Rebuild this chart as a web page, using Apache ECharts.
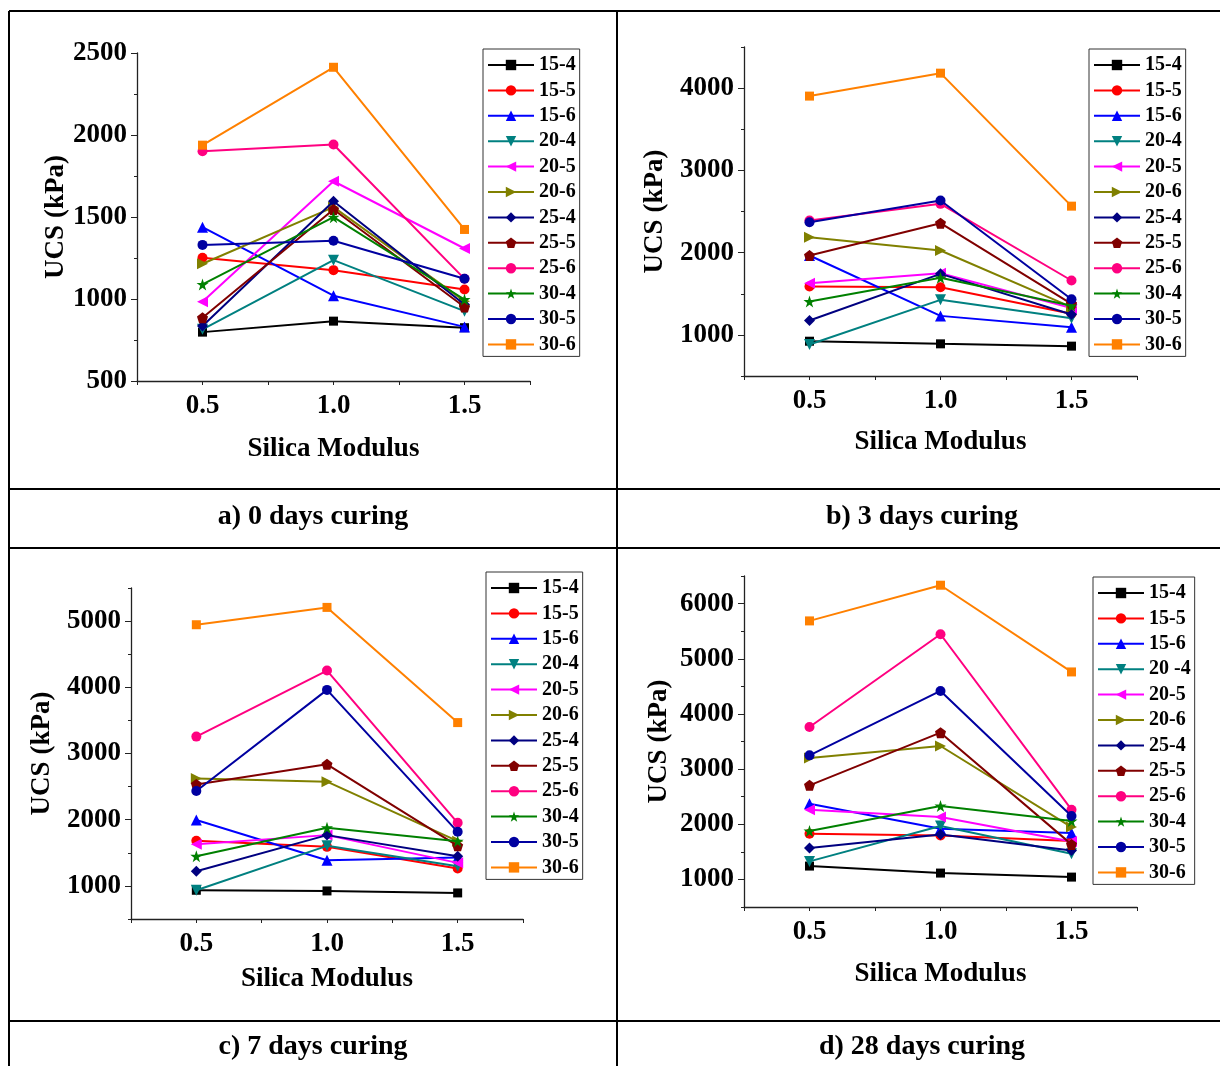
<!DOCTYPE html>
<html><head><meta charset="utf-8">
<script src="https://cdn.jsdelivr.net/npm/echarts@6/dist/echarts.min.js"></script>
<style>html,body{margin:0;padding:0;background:#fff}#c{width:1220px;height:1066px}</style>
</head><body><div id="c"></div>
<script>
// ---------- data ----------
const silicaModulus = [0.5, 1.0, 1.5];
const mixNames = ['15-4','15-5','15-6','20-4','20-5','20-6','25-4','25-5','25-6','30-4','30-5','30-6'];
const mixNames28 = ['15-4','15-5','15-6','20 -4','20-5','20-6','25-4','25-5','25-6','30-4','30-5','30-6'];
const ucsDay0 = [
  [798, 865, 825], [1251, 1176, 1058], [1438, 1020, 830], [815, 1237, 926],
  [983, 1718, 1308], [1215, 1560, 987], [835, 1596, 967], [886, 1546, 951],
  [1901, 1942, 1123], [1089, 1499, 997], [1330, 1355, 1123], [1938, 2413, 1424]
];
const ucsDay3 = [
  [923, 891, 863], [1588, 1580, 1256], [1965, 1231, 1094], [883, 1426, 1203],
  [1629, 1750, 1325], [2188, 2026, 1337], [1175, 1742, 1248], [1965, 2358, 1377],
  [2391, 2593, 1661], [1406, 1694, 1353], [2370, 2634, 1434], [3903, 4182, 2565]
];
const ucsDay7 = [
  [934, 924, 894], [1681, 1590, 1262], [1995, 1388, 1429], [934, 1605, 1298],
  [1630, 1767, 1348], [2624, 2574, 1676], [1222, 1767, 1449], [2533, 2836, 1605],
  [3255, 4253, 1953], [1449, 1878, 1676], [2433, 3961, 1817], [4945, 5207, 3467]
];
const ucsDay28 = [
  [1242, 1115, 1042], [1828, 1798, 1695], [2372, 1919, 1840], [1327, 1967, 1466],
  [2264, 2131, 1689], [3201, 3418, 1949], [1568, 1816, 1526], [2705, 3660, 1635],
  [3763, 5444, 2264], [1877, 2330, 2058], [3249, 4416, 2149], [5686, 6333, 4761]
];
const panelTitles = ['a) 0 days curing', 'b) 3 days curing', 'c) 7 days curing', 'd) 28 days curing'];
const xTickLabels = [0.5, 1.0, 1.5];
const yLabelsA = [500, 1000, 1500, 2000, 2500];
const yLabelsB = [1000, 2000, 3000, 4000];
const yLabelsC = [1000, 2000, 3000, 4000, 5000];
const yLabelsD = [1000, 2000, 3000, 4000, 5000, 6000];

// ---------- styles ----------
const FONT = '"Liberation Serif", "Times New Roman", serif';
const colors = ['#000000','#FF0000','#0000FF','#008080','#FF00FF','#808000','#000080','#800000','#FF0080','#008000','#0000A0','#FF8000'];
const symbols = [
  'rect', 'circle', 'triangle',
  'path://M0,0 L10,0 L5,9 Z',
  'path://M10,0 L10,10 L1,5 Z',
  'path://M0,0 L9,5 L0,10 Z',
  'diamond',
  'path://M5,0 L10,3.8 L8.1,10 L1.9,10 L0,3.8 Z',
  'circle',
  'path://M5,0 L6.2,3.6 L10,3.6 L6.9,5.9 L8.1,9.5 L5,7.3 L1.9,9.5 L3.1,5.9 L0,3.6 L3.8,3.6 Z',
  'circle',
  'rect'
];
const symSize = [9, 10, 11, 11, 11, 11, 11, 11, 10, 12, 10, 9];

const panels = [
  { data: ucsDay0, names: mixNames, yMax: 2500, labels: yLabelsA,
    grid: {left: 137, top: 53, width: 393, height: 328}, legend: {left: 483, top: 49}, xGap: 55, yGap: 67 },
  { data: ucsDay3, names: mixNames, yMax: 4500, labels: yLabelsB,
    grid: {left: 744, top: 47, width: 393, height: 329}, legend: {left: 1089, top: 49}, xGap: 53, yGap: 75 },
  { data: ucsDay7, names: mixNames, yMax: 5500, labels: yLabelsC,
    grid: {left: 131, top: 588, width: 392, height: 331}, legend: {left: 486, top: 572}, xGap: 47, yGap: 75 },
  { data: ucsDay28, names: mixNames28, yMax: 6500, labels: yLabelsD,
    grid: {left: 744, top: 576, width: 393, height: 331}, legend: {left: 1093, top: 577}, xGap: 54, yGap: 71 }
];

const axisLine = {show: true, lineStyle: {color: '#222', width: 1.3}};
const grids = [], xAxes = [], yAxes = [], legends = [], series = [];
panels.forEach((p, i) => {
  grids.push(Object.assign({containLabel: false}, p.grid));
  xAxes.push({
    type: 'value', gridIndex: i, min: 0.25, max: 1.75, interval: 0.25,
    name: 'Silica Modulus', nameLocation: 'middle', nameGap: p.xGap,
    nameTextStyle: {fontFamily: FONT, fontWeight: 'bold', fontSize: 27, color: '#000'},
    axisLine: axisLine, splitLine: {show: false},
    axisTick: {show: true, length: 4, lineStyle: {color: '#222'}},
    axisLabel: {
      customValues: xTickLabels,
      formatter: v => Number(v).toFixed(1),
      fontFamily: FONT, fontWeight: 'bold', fontSize: 27, color: '#000', margin: 12
    }
  });
  yAxes.push({
    type: 'value', gridIndex: i, min: 500, max: p.yMax, position: 'left',
    interval: i === 0 ? 500 : 1000,
    name: 'UCS (kPa)', nameLocation: 'middle', nameGap: p.yGap,
    nameTextStyle: {fontFamily: FONT, fontWeight: 'bold', fontSize: 27, color: '#000'},
    axisLine: axisLine, splitLine: {show: false},
    axisTick: {show: true, length: 6, customValues: p.labels, lineStyle: {color: '#222'}},
    axisLabel: {customValues: p.labels, formatter: v => String(Math.round(v)),
      fontFamily: FONT, fontWeight: 'bold', fontSize: 27, color: '#000', margin: 10}
  });
  series.push(...p.data.map((vals, k) => ({
    type: 'line', name: p.names[k], xAxisIndex: i, yAxisIndex: i,
    data: vals.map((v, j) => [silicaModulus[j], v]),
    color: colors[k], symbol: symbols[k], symbolSize: symSize[k],
    lineStyle: {width: 2, color: colors[k]}, itemStyle: {color: colors[k]},
    emphasis: {disabled: true}, animation: false, z: 2 + k
  })));
  legends.push({
    orient: 'vertical', left: p.legend.left, top: p.legend.top,
    data: p.names, selectedMode: false,
    itemWidth: 46, itemHeight: 13, itemGap: 5.4,
    padding: [6, 4, 2, 4], borderColor: '#333', borderWidth: 1,
    textStyle: {fontFamily: FONT, fontWeight: 'bold', fontSize: 20, lineHeight: 20, color: '#000'}
  });
});
panels.forEach((p, i) => {
  const minorStart = i === 0 ? 750 : 500;
  const step = i === 0 ? 500 : 1000;
  const minorVals = [];
  for (let v = minorStart; v <= p.yMax; v += step) minorVals.push(v);
  yAxes.push({
    type: 'value', gridIndex: i, min: 500, max: p.yMax, position: 'left', offset: 0,
    axisLine: {show: false}, splitLine: {show: false},
    axisTick: {show: true, length: 3, customValues: minorVals, lineStyle: {color: '#222'}},
    axisLabel: {show: false}
  });
});

const L = (x1, y1, x2, y2) => ({type: 'line', shape: {x1, y1, x2, y2}, style: {stroke: '#000', lineWidth: 2}, silent: true});
const T = (x, y, text) => ({type: 'text', x, y, style: {text, fontFamily: FONT, fontWeight: 'bold', fontSize: 28, fill: '#000', align: 'center', verticalAlign: 'middle'}, silent: true});
const graphics = [
  L(9, 11, 1230, 11), L(9, 11, 9, 1080), L(617, 11, 617, 1080),
  L(9, 489, 1230, 489), L(9, 548, 1230, 548), L(9, 1021, 1230, 1021),
  T(313, 517, panelTitles[0]), T(922, 517, panelTitles[1]),
  T(313, 1047, panelTitles[2]), T(922, 1047, panelTitles[3])
];

const chart = echarts.init(document.getElementById('c'), null, {renderer: 'canvas'});
chart.setOption({
  backgroundColor: '#fff', animation: false,
  grid: grids, xAxis: xAxes, yAxis: yAxes, legend: legends, series: series,
  graphic: graphics
});
</script></body></html>
